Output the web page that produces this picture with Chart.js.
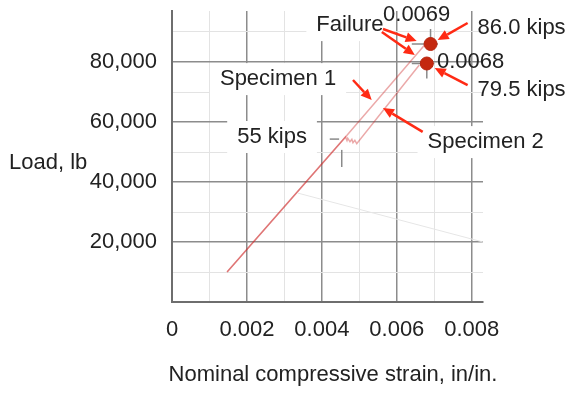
<!DOCTYPE html>
<html>
<head>
<meta charset="utf-8">
<script src="https://cdn.jsdelivr.net/npm/chart.js@4/dist/chart.umd.min.js"></script>
<style>
  html, body { margin: 0; background: #fff; }
</style>
</head>
<body>
<canvas id="graph-charge" width="571" height="394"></canvas>
<script>
// Courbes charge / déformation des deux éprouvettes (strain in/in., load lb)
const xTicks = [0, 0.001, 0.002, 0.003, 0.004, 0.005, 0.006, 0.007, 0.008];
const yTicks = [0, 10000, 20000, 30000, 40000, 50000, 60000, 70000, 80000, 90000];

const specimen1Strain = [0.00147, 0.00463, 0.00673];
const specimen1Load   = [10000, 55000, 85500];

const specimen2Strain = [0.00147, 0.00463, 0.00467, 0.00469, 0.00475, 0.0048, 0.00483, 0.00488, 0.00493, 0.0066];
const specimen2Load   = [10000, 55000, 53800, 54600, 53400, 54200, 53100, 53900, 52800, 79000];

const failureStrain = [0.0069, 0.0068];
const failureLoad   = [86000, 79500];

const traceStrain = [0.00336, 0.0083];
const traceLoad   = [36300, 20000];

// petits traits gris de repère [x1, y1, x2, y2]
const guideMarks = [
  [0.0064, 86000, 0.0071, 86000],
  [0.0069, 86000, 0.0069, 91000],
  [0.0064, 79500, 0.0070, 79500],
  [0.0068, 79500, 0.0068, 74500],
  [0.00421, 54300, 0.00446, 54300],
  [0.00453, 50700, 0.00453, 45000]
];

// flèches rouges [xQueue, yQueue, xPointe, yPointe]
const arrows = [
  [0.00789, 93000, 0.00709, 87300],
  [0.00789, 72300, 0.00701, 78000],
  [0.00563, 91000, 0.00653, 87000],
  [0.00560, 90000, 0.00648, 82300],
  [0.00483, 74000, 0.00533, 67300],
  [0.00669, 56700, 0.00563, 64700]
];

// textes [texte, x, y, fond blanc]
const notes = [
  ['Failure', 0.00475, 92300, true],
  ['0.0069', 0.00653, 95700, false],
  ['86.0 kips', 0.00933, 91300, false],
  ['0.0068', 0.00797, 80000, false],
  ['79.5 kips', 0.00933, 70700, false],
  ['Specimen 1', 0.00283, 74300, true],
  ['Specimen 2', 0.00837, 53300, true],
  ['55 kips', 0.00267, 55000, true]
];

const FONT = '22px "Liberation Sans", Arial, sans-serif';
const RED = '#ff2a14';

function pts(xs, ys) {
  return xs.map((x, i) => ({ x: x, y: ys[i] }));
}

function isMajor(v, step) {
  return Math.round(v / step) % 2 === 0;
}

const annotations = {
  id: 'annotations',
  beforeDatasetsDraw(chart) {
    const c = chart.ctx, sx = chart.scales.x, sy = chart.scales.y;
    c.save();
    c.font = FONT;
    // fonds blancs sous les étiquettes
    c.fillStyle = '#fff';
    notes.forEach(n => {
      if (!n[3]) return;
      const w = c.measureText(n[0]).width;
      const px = sx.getPixelForValue(n[1]), py = sy.getPixelForValue(n[2]);
      c.fillRect(px - w / 2 - 10, py - 16, w + 20, 32);
    });
    // repères gris
    c.strokeStyle = '#8a8a8a';
    c.lineWidth = 1.5;
    guideMarks.forEach(m => {
      c.beginPath();
      c.moveTo(sx.getPixelForValue(m[0]), sy.getPixelForValue(m[1]));
      c.lineTo(sx.getPixelForValue(m[2]), sy.getPixelForValue(m[3]));
      c.stroke();
    });
    c.restore();
  },
  afterDatasetsDraw(chart) {
    const c = chart.ctx, sx = chart.scales.x, sy = chart.scales.y;
    c.save();
    c.font = FONT;
    c.fillStyle = '#222';
    c.textAlign = 'center';
    c.textBaseline = 'middle';
    notes.forEach(n => {
      c.fillText(n[0], sx.getPixelForValue(n[1]), sy.getPixelForValue(n[2]));
    });

    // flèches
    c.strokeStyle = RED;
    c.fillStyle = RED;
    c.lineWidth = 2.5;
    arrows.forEach(a => {
      const x1 = sx.getPixelForValue(a[0]), y1 = sy.getPixelForValue(a[1]);
      const x2 = sx.getPixelForValue(a[2]), y2 = sy.getPixelForValue(a[3]);
      const ang = Math.atan2(y2 - y1, x2 - x1);
      const len = 11, half = 5;
      const bx = x2 - len * Math.cos(ang), by = y2 - len * Math.sin(ang);
      c.beginPath();
      c.moveTo(x1, y1);
      c.lineTo(bx, by);
      c.stroke();
      c.beginPath();
      c.moveTo(x2, y2);
      c.lineTo(bx + half * Math.sin(ang), by - half * Math.cos(ang));
      c.lineTo(bx - half * Math.sin(ang), by + half * Math.cos(ang));
      c.closePath();
      c.fill();
    });

    // titres des axes
    c.fillStyle = '#222';
    c.textAlign = 'left';
    c.fillText('Load, lb', 9, 163);
    c.textAlign = 'center';
    c.fillText('Nominal compressive strain, in/in.', 333, 375);
    c.restore();
  }
};

const ctx = document.getElementById('graph-charge').getContext('2d');
window.chargeChart = new Chart(ctx, {
  type: 'scatter',
  data: {
    datasets: [
      {
        label: 'Trace',
        data: pts(traceStrain, traceLoad),
        showLine: true,
        borderColor: '#e6e6e6',
        borderWidth: 1,
        pointRadius: 0
      },
      {
        label: 'Specimen 1',
        data: pts(specimen1Strain, specimen1Load),
        showLine: true,
        borderColor: 'rgba(205, 40, 40, 0.4)',
        borderWidth: 1.5,
        pointRadius: 0
      },
      {
        label: 'Specimen 2',
        data: pts(specimen2Strain, specimen2Load),
        showLine: true,
        borderColor: 'rgba(205, 40, 40, 0.4)',
        borderWidth: 1.5,
        pointRadius: 0
      },
      {
        label: 'Failure',
        data: pts(failureStrain, failureLoad),
        showLine: false,
        pointRadius: 6.5,
        pointBackgroundColor: '#c4280f',
        pointBorderColor: '#b8240d',
        pointBorderWidth: 1
      }
    ]
  },
  options: {
    responsive: false,
    animation: false,
    layout: { padding: { top: 11, right: 88, left: 0, bottom: 0 } },
    plugins: {
      legend: { display: false },
      tooltip: { enabled: false }
    },
    scales: {
      x: {
        type: 'linear',
        min: 0,
        max: 0.0083,
        afterBuildTicks: s => { s.ticks = xTicks.map(v => ({ value: v })); },
        afterFit: s => { s.height = 92; s.paddingLeft = 0; s.paddingRight = 0; },
        border: { color: '#6e6e6e', width: 2 },
        grid: {
          drawTicks: false,
          color: c => isMajor(c.tick.value, 0.001) ? '#8c8c8c' : '#e3e3e3',
          lineWidth: c => isMajor(c.tick.value, 0.001) ? 1.5 : 1
        },
        ticks: {
          padding: 15,
          maxRotation: 0,
          autoSkip: false,
          color: '#222',
          font: { family: '"Liberation Sans", Arial, sans-serif', size: 22 },
          callback: v => {
            if (!isMajor(v, 0.001)) return '';
            return v === 0 ? '0' : v.toFixed(3);
          }
        }
      },
      y: {
        type: 'linear',
        min: 0,
        max: 97000,
        afterBuildTicks: s => { s.ticks = yTicks.map(v => ({ value: v })); },
        afterFit: s => { s.width = 172; s.paddingTop = 0; s.paddingBottom = 0; },
        border: { color: '#6e6e6e', width: 2 },
        grid: {
          drawTicks: false,
          color: c => isMajor(c.tick.value, 10000) ? '#8c8c8c' : '#e3e3e3',
          lineWidth: c => isMajor(c.tick.value, 10000) ? 1.5 : 1
        },
        ticks: {
          padding: 15,
          autoSkip: false,
          color: '#222',
          font: { family: '"Liberation Sans", Arial, sans-serif', size: 22 },
          callback: v => (v > 0 && isMajor(v, 10000)) ? v.toLocaleString('en-US') : ''
        }
      }
    }
  },
  plugins: [annotations]
});
</script>
</body>
</html>
